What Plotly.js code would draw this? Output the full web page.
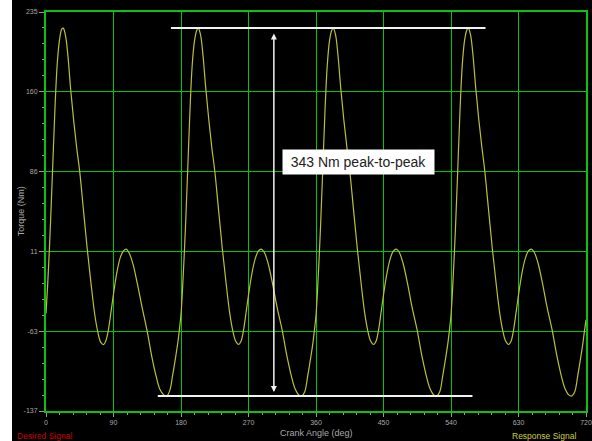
<!DOCTYPE html>
<html>
<head>
<meta charset="utf-8">
<script src="https://cdn.plot.ly/plotly-3.0.1.min.js"></script>
<style>
  html, body { margin: 0; padding: 0; background: #ffffff; width: 592px; height: 441px; overflow: hidden; }
  #chart { position: absolute; left: 12px; top: 0; width: 580px; height: 441px; }
</style>
</head>
<body>
<div id="chart"></div>
<script>
// Crank angle (deg) of each sample of the response signal
const angleDeg = [
  0, 2, 4, 6, 9, 12, 15, 18, 21, 23, 26, 29, 33, 37, 41, 45, 50, 55, 60, 65, 69, 73, 77, 80, 83, 87, 91, 95, 99, 103, 107, 111, 116, 122, 128, 135, 141, 147, 152, 157, 161, 165, 169, 173, 176, 178,
  180, 182, 184, 186, 189, 192, 195, 198, 201, 203, 206, 209, 213, 217, 221, 225, 230, 235, 240, 245, 249, 253, 257, 260, 263, 267, 271, 275, 279, 283, 287, 291, 296, 302, 308, 315, 321, 327, 332, 337, 341, 345, 349, 353, 356, 358,
  360, 362, 364, 366, 369, 372, 375, 378, 381, 383, 386, 389, 393, 397, 401, 405, 410, 415, 420, 425, 429, 433, 437, 440, 443, 447, 451, 455, 459, 463, 467, 471, 476, 482, 488, 495, 501, 507, 512, 517, 521, 525, 529, 533, 536, 538,
  540, 542, 544, 546, 549, 552, 555, 558, 561, 563, 566, 569, 573, 577, 581, 585, 590, 595, 600, 605, 609, 613, 617, 620, 623, 627, 631, 635, 639, 643, 647, 651, 656, 662, 668, 675, 681, 687, 692, 697, 701, 705, 709, 713, 716, 718,
  720
];

// Measured torque (Nm) at each crank angle
const torqueNm = [
  -46, -22, 6, 38, 92, 146, 187, 209, 219, 220, 213, 196, 162, 133, 108, 86, 50, 14, -18, -47, -63, -73, -75, -71, -62, -43, -23, -6, 6, 12, 14, 10, 0, -19, -40, -63, -86, -105, -117, -122, -123, -118, -103, -86, -72, -60,
  -47, -24, 4, 35, 89, 144, 186, 208, 218, 220, 214, 197, 164, 135, 109, 87, 51, 15, -17, -46, -62, -72, -75, -72, -63, -44, -24, -7, 5, 12, 14, 11, 1, -18, -40, -62, -85, -104, -116, -122, -123, -119, -104, -87, -73, -61,
  -48, -25, 3, 34, 88, 143, 185, 208, 218, 220, 214, 197, 164, 135, 110, 87, 51, 15, -17, -46, -62, -72, -75, -72, -63, -44, -24, -7, 5, 12, 14, 11, 1, -18, -40, -62, -85, -104, -116, -122, -123, -119, -104, -87, -73, -61,
  -48, -25, 3, 34, 88, 143, 185, 208, 218, 220, 214, 197, 164, 135, 110, 87, 51, 15, -17, -46, -62, -72, -75, -72, -63, -44, -24, -7, 5, 12, 14, 11, 1, -18, -40, -62, -85, -104, -116, -122, -123, -119, -104, -87, -73, -62,
  -52
];

// Axis ticks
const xTickVals = [0, 90, 180, 270, 360, 450, 540, 630, 720];
const xTickText = ['0', '90', '180', '270', '360', '450', '540', '630', '720'];
const yTickVals = [-137, -62.6, 11.8, 86.2, 160.6, 235];
const yTickText = ['-137', '-63', '11', '86', '160', '235'];

// Extent of the peak / trough marker lines and the double arrow (deg)
const peakLineSpan = [166.6, 586];
const troughLineSpan = [149, 568.6];
const arrowAngle = 303.8;
const labelAngle = 416.3;
const labelTorque = 94.9;

const peak = Math.max(...torqueNm);
const trough = Math.min(...torqueNm);
const peakToPeak = Math.round(peak - trough);

const FONT = 'Liberation Sans, Arial, Helvetica, sans-serif';
const GRID = '#00c800';
const FRAME = '#10c010';
const TICK = '#9a9a9a';

const trace = {
  x: angleDeg,
  y: torqueNm,
  type: 'scatter',
  mode: 'lines',
  line: { color: '#bebe3a', width: 1.2, shape: 'spline', smoothing: 1 },
  hoverinfo: 'skip'
};

const axisCommon = {
  tickmode: 'array',
  ticks: 'outside',
  tickcolor: TICK,
  tickwidth: 1,
  tickfont: { family: FONT, size: 7, color: '#a8a8a8' },
  showgrid: true,
  gridcolor: GRID,
  gridwidth: 1,
  showline: true,
  linecolor: FRAME,
  linewidth: 2,
  mirror: true,
  zeroline: false,
  fixedrange: true
};

const layout = {
  width: 580,
  height: 441,
  margin: { l: 34, r: 6, t: 12, b: 30, pad: 0 },
  paper_bgcolor: '#000000',
  plot_bgcolor: '#000000',
  showlegend: false,
  font: { family: FONT },
  xaxis: Object.assign({}, axisCommon, {
    range: [0, 720],
    tickvals: xTickVals,
    ticktext: xTickText,
    ticklen: 4,
    minor: { tickmode: 'linear', tick0: 0, dtick: 18, ticks: 'outside', ticklen: 2, tickcolor: TICK, showgrid: false }
  }),
  yaxis: Object.assign({}, axisCommon, {
    range: [-137, 235],
    tickvals: yTickVals,
    ticktext: yTickText,
    ticklen: 5,
    minor: { tickmode: 'linear', tick0: -137, dtick: 14.88, ticks: 'outside', ticklen: 2, tickcolor: TICK, showgrid: false }
  }),
  shapes: [
    { type: 'line', xref: 'x', yref: 'y', x0: peakLineSpan[0], x1: peakLineSpan[1], y0: peak, y1: peak,
      line: { color: '#f2f2f2', width: 2 } },
    { type: 'line', xref: 'x', yref: 'y', x0: troughLineSpan[0], x1: troughLineSpan[1], y0: trough, y1: trough,
      line: { color: '#f2f2f2', width: 2 } }
  ],
  annotations: [
    // double-headed arrow between trough and peak
    { xref: 'x', yref: 'y', axref: 'x', ayref: 'y', x: arrowAngle, y: trough, ax: arrowAngle, ay: peak,
      text: '', showarrow: true, arrowside: 'end+start', arrowhead: 2, startarrowhead: 2,
      arrowsize: 0.8, startarrowsize: 0.8, arrowwidth: 1.5, arrowcolor: '#f2f2f2', standoff: 4, startstandoff: 4 },
    { xref: 'x', yref: 'y', x: labelAngle, y: labelTorque, xanchor: 'center', yanchor: 'middle',
      text: peakToPeak + ' Nm peak-to-peak', showarrow: false,
      font: { family: FONT, size: 14, color: '#222222' },
      bgcolor: '#ffffff', borderpad: 4, width: 143, height: 16 },
    { xref: 'paper', yref: 'paper', x: 0.5, y: -0.0559, xanchor: 'center', yanchor: 'middle',
      text: 'Crank Angle (deg)', showarrow: false, font: { family: FONT, size: 9, color: '#a8a8a8' } },
    { xref: 'paper', yref: 'paper', x: -0.0463, y: 0.5005, xanchor: 'center', yanchor: 'middle', textangle: -90,
      text: 'Torque (Nm)', showarrow: false, font: { family: FONT, size: 9, color: '#a8a8a8' } },
    { xref: 'paper', yref: 'paper', x: -0.0574, y: -0.0622, xanchor: 'left', yanchor: 'middle',
      text: 'Desired Signal', showarrow: false, font: { family: FONT, size: 8.5, color: '#cc0000' } },
    { xref: 'paper', yref: 'paper', x: 0.9846, y: -0.0622, xanchor: 'right', yanchor: 'middle',
      text: 'Response Signal', showarrow: false, font: { family: FONT, size: 8.5, color: '#cccc3a' } }
  ]
};

Plotly.newPlot('chart', [trace], layout, { displayModeBar: false, staticPlot: true });
</script>
</body>
</html>
